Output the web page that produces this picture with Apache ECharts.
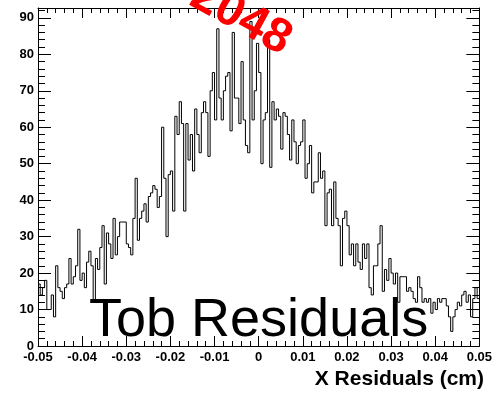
<!DOCTYPE html>
<html>
<head>
<meta charset="utf-8">
<script src="https://cdn.jsdelivr.net/npm/echarts@6/dist/echarts.min.js"></script>
<style>
  html, body { margin: 0; padding: 0; background: #fff; }
  #chart { width: 495px; height: 394px; }
</style>
</head>
<body>
<div id="chart"></div>
<script>
// Histogram binning: 200 bins over [-0.05, 0.05] cm
const binLow = -0.05;
const binHigh = 0.05;
const binCount = 200;

// Entries per bin
const counts = [
  17, 14, 16, 18, 10, 10, 14, 8, 22, 16,
  15, 13, 16, 17, 24, 17, 19, 22, 32, 18,
  20, 16, 23, 26, 22, 12, 24, 21, 27, 33,
  17, 31, 28, 24, 35, 25, 30, 34, 34, 34,
  28, 27, 25, 35, 46, 29, 35, 37, 39, 34,
  41, 42, 44, 43, 38, 41, 60, 46, 30, 47,
  48, 37, 63, 58, 67, 61, 37, 61, 51, 58,
  48, 65, 58, 53, 64, 67, 64, 52, 70, 75,
  62, 87, 68, 62, 70, 74, 75, 59, 86, 68,
  68, 61, 78, 62, 55, 53, 89, 62, 70, 83,
  75, 50, 62, 64, 84, 49, 67, 62, 65, 63,
  54, 64, 63, 58, 51, 62, 56, 50, 55, 56,
  62, 46, 50, 55, 42, 45, 45, 53, 46, 48,
  33, 42, 43, 33, 45, 35, 33, 22, 35, 37,
  33, 25, 28, 22, 28, 23, 21, 28, 24, 28,
  16, 14, 22, 22, 28, 33, 15, 21, 18, 24,
  20, 17, 20, 12, 19, 19, 19, 15, 16, 15,
  13, 12, 19, 16, 12, 13, 12, 13, 9, 12,
  10, 13, 12, 13, 13, 11, 8, 4, 8, 10,
  12, 11, 14, 15, 12, 14, 8, 13, 16, 13
];

// Axis ranges and tick spacing
const xTickStep = 0.01;
const yMin = 0;
const yMax = 92.7;
const yTickStep = 10;

const titleText = 'Tob Residuals';
const axisTitle = 'X Residuals (cm)';
const stampText = '2048';

// Step outline points at the left edge of every bin, closed at the upper edge
const binWidth = (binHigh - binLow) / binCount;
const stepPoints = counts.map((c, i) => [binLow + i * binWidth, c]);
stepPoints.push([binHigh, counts[counts.length - 1]]);

const labelFont = {
  fontFamily: '"Liberation Sans", Arial, sans-serif',
  fontWeight: 'bold',
  fontSize: 13,
  color: '#000'
};

function fmtX(v) {
  if (Math.abs(v) < 1e-9) return '0';
  return (Math.round(v * 100) / 100).toFixed(2);
}
function fmtY(v) {
  const r = Math.round(v);
  return (Math.abs(v - r) < 1e-6 && r % yTickStep === 0) ? String(r) : '';
}

const axisLine = { show: true, onZero: false, lineStyle: { color: '#000', width: 1 } };

const chart = echarts.init(document.getElementById('chart'), null, { renderer: 'canvas' });
chart.setOption({
  animation: false,
  backgroundColor: '#fff',
  grid: { left: 38, right: 5, top: 8, bottom: 48, containLabel: false },
  xAxis: [
    {
      type: 'value', position: 'bottom', min: binLow, max: binHigh, interval: xTickStep,
      axisLine: axisLine,
      axisTick: { show: true, inside: true, length: 10, lineStyle: { color: '#000' } },
      minorTick: { show: true, splitNumber: 5, length: 5, lineStyle: { color: '#000' } },
      axisLabel: Object.assign({ margin: 5, formatter: fmtX }, labelFont),
      splitLine: { show: false }
    },
    {
      type: 'value', position: 'top', min: binLow, max: binHigh, interval: xTickStep,
      axisLine: axisLine,
      axisTick: { show: true, inside: true, length: 10, lineStyle: { color: '#000' } },
      minorTick: { show: true, splitNumber: 5, length: 5, lineStyle: { color: '#000' } },
      axisLabel: { show: false },
      splitLine: { show: false }
    }
  ],
  yAxis: [
    {
      type: 'value', position: 'left', min: yMin, max: yMax, interval: yTickStep,
      axisLine: axisLine,
      axisTick: { show: true, inside: true, length: 13, lineStyle: { color: '#000' } },
      minorTick: { show: true, splitNumber: 5, length: 7, lineStyle: { color: '#000' } },
      axisLabel: Object.assign({ margin: 4, formatter: fmtY, showMaxLabel: false }, labelFont),
      splitLine: { show: false }
    },
    {
      type: 'value', position: 'right', min: yMin, max: yMax, interval: yTickStep,
      axisLine: axisLine,
      axisTick: { show: true, inside: true, length: 13, lineStyle: { color: '#000' } },
      minorTick: { show: true, splitNumber: 5, length: 7, lineStyle: { color: '#000' } },
      axisLabel: { show: false },
      splitLine: { show: false }
    }
  ],
  series: [
    {
      type: 'line',
      xAxisIndex: 0,
      yAxisIndex: 0,
      step: 'end',
      data: stepPoints,
      showSymbol: false,
      symbol: 'none',
      lineStyle: { color: '#000', width: 1 },
      silent: true
    }
  ],
  graphic: [
    {
      type: 'text', left: 89, top: 294, z: 10,
      style: {
        text: titleText, fill: '#000',
        font: 'normal 54px "Liberation Sans", Arial, sans-serif'
      }
    },
    {
      type: 'text', right: 11, top: 369, z: 10,
      style: {
        text: axisTitle, fill: '#000',
        font: 'bold 21px "Liberation Sans", Arial, sans-serif'
      }
    },
    {
      type: 'text', x: 241, y: 18, rotation: -0.5, z: 10,
      style: {
        text: stampText, fill: '#ff0000',
        font: 'bold 48px "Liberation Sans", Arial, sans-serif',
        align: 'center', verticalAlign: 'middle'
      }
    }
  ]
});
</script>
</body>
</html>
